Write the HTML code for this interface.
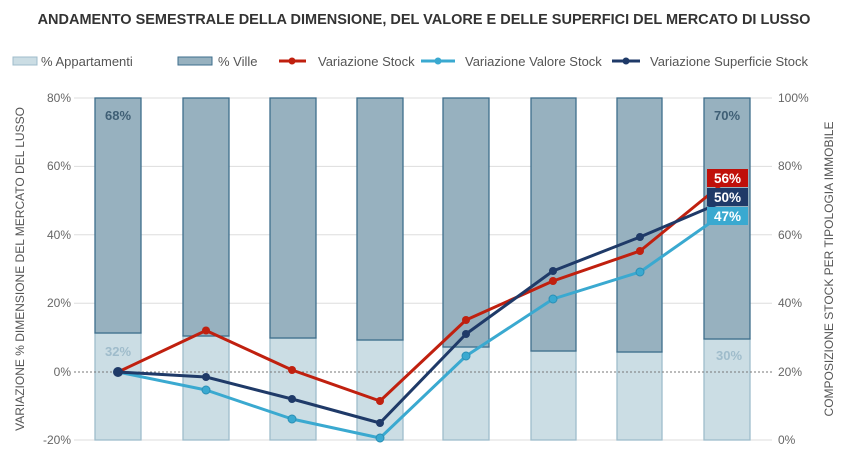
<!DOCTYPE html>
<html><head><meta charset="utf-8"><style>
body{margin:0;background:#fff;}
svg text{font-family:"Liberation Sans",sans-serif;}
</style></head><body>
<svg width="850" height="450" viewBox="0 0 850 450" xmlns="http://www.w3.org/2000/svg">
<text x="424" y="24" text-anchor="middle" font-size="14.5" font-weight="bold" fill="#333">ANDAMENTO SEMESTRALE DELLA DIMENSIONE, DEL VALORE E DELLE SUPERFICI DEL MERCATO DI LUSSO</text>
<!-- legend -->
<g font-size="13" fill="#555">
<rect x="13" y="57" width="24" height="8" fill="#cbdde4" stroke="#9fbccb"/><text x="41" y="66">% Appartamenti</text>
<rect x="178" y="57" width="34" height="8" fill="#97b1bf" stroke="#3e6e8c"/><text x="218" y="66">% Ville</text>
<line x1="279" y1="61" x2="306" y2="61" stroke="#c0200f" stroke-width="3"/><circle cx="292" cy="61" r="3.5" fill="#c0200f"/><text x="318" y="66">Variazione Stock</text>
<line x1="421" y1="61" x2="455" y2="61" stroke="#3aa9d0" stroke-width="3"/><circle cx="438" cy="61" r="3.5" fill="#3aa9d0"/><text x="465" y="66">Variazione Valore Stock</text>
<line x1="612" y1="61" x2="640" y2="61" stroke="#1f3a68" stroke-width="3"/><circle cx="626" cy="61" r="3.5" fill="#1f3a68"/><text x="650" y="66">Variazione Superficie Stock</text>
</g>
<!-- grid -->
<g stroke="#ddd" stroke-width="1">
<line x1="74" y1="98" x2="772" y2="98"/><line x1="74" y1="166.4" x2="772" y2="166.4"/>
<line x1="74" y1="234.8" x2="772" y2="234.8"/><line x1="74" y1="303.2" x2="772" y2="303.2"/>
<line x1="74" y1="440" x2="772" y2="440"/>
</g>
<!-- bars -->
<g stroke-width="1.3">
<rect x="95" y="333" width="46" height="107" fill="#cbdde4" stroke="#9fbccb"/><rect x="95" y="98" width="46" height="235" fill="#97b1bf" stroke="#3e6e8c"/>
<rect x="183" y="336" width="46" height="104" fill="#cbdde4" stroke="#9fbccb"/><rect x="183" y="98" width="46" height="238" fill="#97b1bf" stroke="#3e6e8c"/>
<rect x="270" y="338" width="46" height="102" fill="#cbdde4" stroke="#9fbccb"/><rect x="270" y="98" width="46" height="240" fill="#97b1bf" stroke="#3e6e8c"/>
<rect x="357" y="340" width="46" height="100" fill="#cbdde4" stroke="#9fbccb"/><rect x="357" y="98" width="46" height="242" fill="#97b1bf" stroke="#3e6e8c"/>
<rect x="443" y="347" width="46" height="93" fill="#cbdde4" stroke="#9fbccb"/><rect x="443" y="98" width="46" height="249" fill="#97b1bf" stroke="#3e6e8c"/>
<rect x="531" y="351" width="45" height="89" fill="#cbdde4" stroke="#9fbccb"/><rect x="531" y="98" width="45" height="253" fill="#97b1bf" stroke="#3e6e8c"/>
<rect x="617" y="352" width="45" height="88" fill="#cbdde4" stroke="#9fbccb"/><rect x="617" y="98" width="45" height="254" fill="#97b1bf" stroke="#3e6e8c"/>
<rect x="704" y="339" width="46" height="101" fill="#cbdde4" stroke="#9fbccb"/><rect x="704" y="98" width="46" height="241" fill="#97b1bf" stroke="#3e6e8c"/>
</g>
<text x="118" y="120" text-anchor="middle" font-size="13" font-weight="bold" fill="#3f5f75">68%</text>
<text x="727" y="120" text-anchor="middle" font-size="13" font-weight="bold" fill="#3f5f75">70%</text>
<text x="118" y="356" text-anchor="middle" font-size="13" font-weight="bold" fill="#9fbccb">32%</text>
<text x="729" y="360" text-anchor="middle" font-size="13" font-weight="bold" fill="#9fbccb">30%</text>
<line x1="74" y1="372" x2="772" y2="372" stroke="#777" stroke-dasharray="2,2"/>
<!-- lines -->
<g fill="none" stroke-width="3" stroke-linejoin="round">
<polyline stroke="#c0200f" points="118,372 206,330.5 292,370 380,401 466,320 553,281 640,251 727,180"/>
<polyline stroke="#3aa9d0" points="118,372 206,390 292,419 380,438 466,356 553,299 640,272 727,211"/>
<polyline stroke="#1f3a68" points="118,372 206,377 292,399 380,423 466,334 553,271 640,237 727,200"/>
</g>
<g fill="#c0200f"><circle cx="206" cy="330.5" r="4"/><circle cx="292" cy="370" r="4"/><circle cx="380" cy="401" r="4"/><circle cx="466" cy="320" r="4"/><circle cx="553" cy="281" r="4"/><circle cx="640" cy="251" r="4"/></g>
<g fill="#3aa9d0" stroke="#2a8fb5"><circle cx="206" cy="390" r="4"/><circle cx="292" cy="419" r="4"/><circle cx="380" cy="438" r="4"/><circle cx="466" cy="356" r="4"/><circle cx="553" cy="299" r="4"/><circle cx="640" cy="272" r="4"/></g>
<g fill="#1f3a68"><circle cx="118" cy="372" r="5"/><circle cx="206" cy="377" r="4"/><circle cx="292" cy="399" r="4"/><circle cx="380" cy="423" r="4"/><circle cx="466" cy="334" r="4"/><circle cx="553" cy="271" r="4"/><circle cx="640" cy="237" r="4"/></g>
<!-- end labels -->
<rect x="707" y="169" width="41" height="18" fill="#c0100a"/><text x="727.5" y="183" text-anchor="middle" font-size="13.5" font-weight="bold" fill="#fff">56%</text>
<rect x="707" y="188" width="41" height="18" fill="#1f3a68"/><text x="727.5" y="202" text-anchor="middle" font-size="13.5" font-weight="bold" fill="#fff">50%</text>
<rect x="707" y="207" width="41" height="18" fill="#3aa9d0"/><text x="727.5" y="221" text-anchor="middle" font-size="13.5" font-weight="bold" fill="#fff">47%</text>
<!-- axis labels -->
<g font-size="12" fill="#666" text-anchor="end">
<text x="71" y="102">80%</text><text x="71" y="170">60%</text><text x="71" y="239">40%</text><text x="71" y="307">20%</text><text x="71" y="376">0%</text><text x="71" y="444">-20%</text>
</g>
<g font-size="12" fill="#666" text-anchor="start">
<text x="778" y="102">100%</text><text x="778" y="170">80%</text><text x="778" y="239">60%</text><text x="778" y="307">40%</text><text x="778" y="376">20%</text><text x="778" y="444">0%</text>
</g>
<text transform="translate(24,269) rotate(-90)" text-anchor="middle" font-size="12" fill="#555">VARIAZIONE % DIMENSIONE DEL MERCATO DEL LUSSO</text>
<text transform="translate(833,269) rotate(-90)" text-anchor="middle" font-size="12" fill="#555">COMPOSIZIONE STOCK PER TIPOLOGIA IMMOBILE</text>
</svg>
</body></html>
